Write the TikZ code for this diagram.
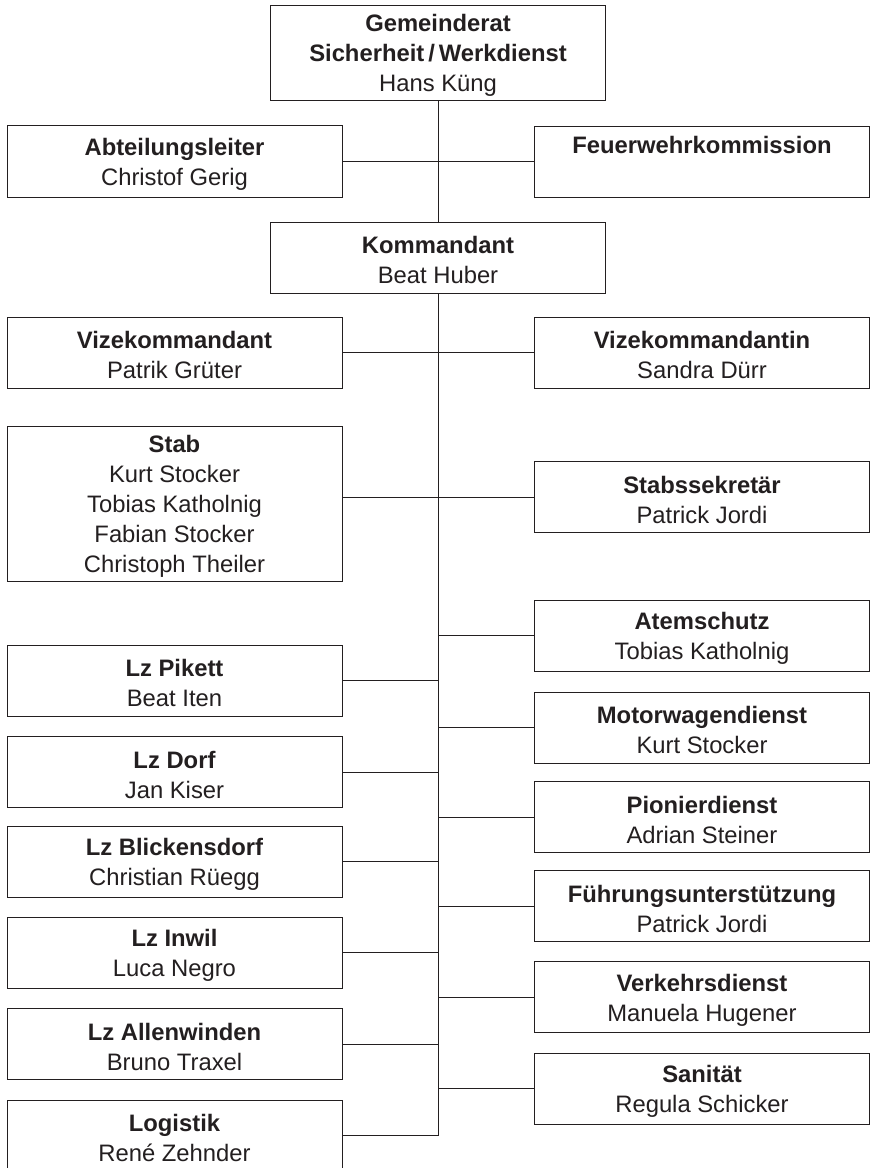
\documentclass[tikz,border=0pt]{standalone}
\usepackage{fontspec}
\setmainfont{Liberation Sans}
\definecolor{ink}{HTML}{231F20}
\newcommand\ttl[1]{\rule{0pt}{23pt}\textbf{#1}}
\begin{document}
\begin{tikzpicture}[x=1pt,y=-1pt,
  box/.style={draw=ink, line width=1pt, fill=white, inner sep=0pt, align=center,
    text=ink, font=\fontsize{23.8}{30}\selectfont, minimum width=335pt, minimum height=71pt},
  link/.style={draw=ink, line width=1pt}]
\useasboundingbox (0,0) rectangle (871,1168);
% centre column
\node[box, minimum height=95pt] (top) at (438,52.5) {\ttl{Gemeinderat}\\\textbf{Sicherheit\,/\,Werkdienst}\\Hans Küng};
\node[box] (kdt) at (438,257.5) {\ttl{Kommandant}\\Beat Huber};
% left column
\node[box, minimum height=72pt] (abt) at (174.5,161) {\ttl{Abteilungsleiter}\\Christof Gerig};
\node[box] (vize) at (174.5,352.5) {\ttl{Vizekommandant}\\Patrik Grüter};
\node[box, minimum height=155pt] (stab) at (174.5,503.5) {\ttl{Stab}\\Kurt Stocker\\Tobias Katholnig\\Fabian Stocker\\Christoph Theiler};
\node[box] (pik) at (174.5,680.5) {\ttl{Lz Pikett}\\Beat Iten};
\node[box] (dorf) at (174.5,772) {\ttl{Lz Dorf}\\Jan Kiser};
\node[box] (blick) at (174.5,861.5) {\ttl{Lz Blickensdorf}\\Christian Rüegg};
\node[box] (inwil) at (174.5,952.5) {\ttl{Lz Inwil}\\Luca Negro};
\node[box] (allen) at (174.5,1044) {\ttl{Lz Allenwinden}\\Bruno Traxel};
\node[box] (log) at (174.5,1135.5) {\ttl{Logistik}\\René Zehnder};
% right column
\node[box] (fwk) at (702,161.5) {\ttl{Feuerwehrkommission}\\\strut};
\node[box] (vizein) at (702,352.5) {\ttl{Vizekommandantin}\\Sandra Dürr};
\node[box] (ssek) at (702,497) {\ttl{Stabssekretär}\\Patrick Jordi};
\node[box] (atem) at (702,635.5) {\ttl{Atemschutz}\\Tobias Katholnig};
\node[box] (motor) at (702,727.5) {\ttl{Motorwagendienst}\\Kurt Stocker};
\node[box] (pion) at (702,817) {\ttl{Pionierdienst}\\Adrian Steiner};
\node[box] (fu) at (702,906) {\ttl{Führungsunterstützung}\\Patrick Jordi};
\node[box] (verk) at (702,997) {\ttl{Verkehrsdienst}\\Manuela Hugener};
\node[box] (san) at (702,1088.5) {\ttl{Sanität}\\Regula Schicker};
% connectors
\draw[link] (top.south) -- (kdt.north);
\draw[link] (kdt.south) |- (log.east);
\draw[link] (abt.east) -- (abt.east -| fwk.west);
\draw[link] (vize.east) -- (vizein.west);
\draw[link] (stab.east |- ssek.west) -- (ssek.west);
\foreach \n in {atem,motor,pion,fu,verk,san}
  \draw[link] (kdt.south |- \n.west) -- (\n.west);
\foreach \n in {pik,dorf,blick,inwil,allen}
  \draw[link] (kdt.south |- \n.east) -- (\n.east);
\end{tikzpicture}
\end{document}
